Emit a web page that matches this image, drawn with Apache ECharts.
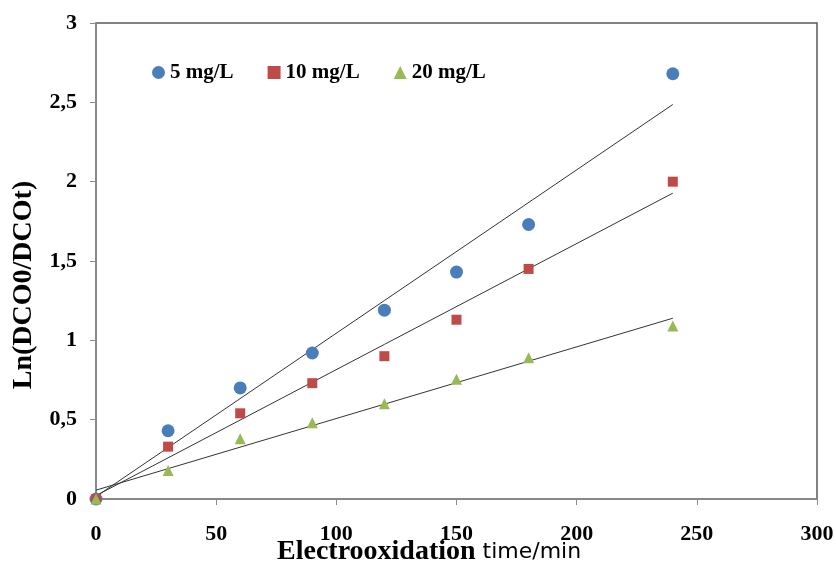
<!DOCTYPE html>
<html><head><meta charset="utf-8">
<script src="https://cdn.jsdelivr.net/npm/echarts@6/dist/echarts.min.js"></script>
<style>html,body{margin:0;padding:0;background:#fff}#c{width:836px;height:568px}</style>
</head><body><div id="c"></div>
<script>
const times = [0, 30, 60, 90, 120, 150, 180, 240];
const s5 = [0, 0.43, 0.70, 0.92, 1.19, 1.43, 1.73, 2.68];
const s10 = [0, 0.33, 0.54, 0.73, 0.90, 1.13, 1.45, 2.00];
const s20 = [0, 0.18, 0.38, 0.48, 0.60, 0.755, 0.89, 1.09];
const seriesNames = ['5 mg/L', '10 mg/L', '20 mg/L'];

function fit(xs, ys) {
  const n = xs.length;
  const mx = xs.reduce((a, b) => a + b, 0) / n;
  const my = ys.reduce((a, b) => a + b, 0) / n;
  let sxx = 0, sxy = 0;
  for (let i = 0; i < n; i++) { sxx += (xs[i] - mx) ** 2; sxy += (xs[i] - mx) * (ys[i] - my); }
  const m = sxy / sxx, b = my - m * mx;
  const x0 = Math.min(...xs), x1 = Math.max(...xs);
  return [[x0, m * x0 + b], [x1, m * x1 + b]];
}
const pairs = ys => times.map((t, i) => [t, ys[i]]);
const font = '"Liberation Serif", "Times New Roman", serif';
const sans = '"DejaVu Sans", Verdana, sans-serif';
const colors = ['#4A7EBB', '#BE4B48', '#98B954'];
const symbols = ['circle', 'rect', 'triangle'];
const sizes = [13, 10, 11];
const all = [s5, s10, s20];

const series = [];
all.forEach((ys, i) => {
  series.push({
    name: seriesNames[i] + ' fit', type: 'line', data: fit(times, ys), showSymbol: false,
    lineStyle: { color: '#333', width: 1 }, z: 2, silent: true
  });
});
all.forEach((ys, i) => {
  series.push({
    name: seriesNames[i], type: 'scatter', data: pairs(ys), symbol: symbols[i],
    symbolSize: sizes[i], itemStyle: { color: colors[i], opacity: 1 }, z: 3 + i
  });
});

const chart = echarts.init(document.getElementById('c'));
chart.setOption({
  animation: false,
  title: {
    text: '{a|Electrooxidation}{b| time/min}', left: 272, top: 533,
    textStyle: {
      rich: {
        a: { fontFamily: font, fontWeight: 'bold', fontSize: 28, color: '#000' },
        b: { fontFamily: sans, fontWeight: 'normal', fontSize: 22, color: '#000' }
      }
    }
  },
  grid: { left: 96, top: 23, right: 19, bottom: 69, show: true, borderColor: '#595959', borderWidth: 1.5,
    containLabel: false, outerBoundsMode: 'none' },
  legend: {
    data: seriesNames.map((n, i) => ({ name: n, icon: symbols[i] })),
    left: 147, top: 57, itemGap: 34, itemWidth: 13, itemHeight: 13,
    textStyle: { fontFamily: font, fontWeight: 'bold', fontSize: 21, color: '#000' }
  },
  xAxis: {
    type: 'value', min: 0, max: 300, interval: 50,
    axisLine: { lineStyle: { color: '#8c8c8c', width: 1.5 } },
    axisTick: { show: true, length: 6, inside: false, lineStyle: { color: '#8c8c8c' } },
    axisLabel: { fontFamily: font, fontWeight: 'bold', fontSize: 22, color: '#000', margin: 24 },
    splitLine: { show: false }
  },
  yAxis: {
    type: 'value', min: 0, max: 3, interval: 0.5,
    name: 'Ln(DCO0/DCOt)', nameLocation: 'middle', nameGap: 58, nameRotate: 90,
    nameTextStyle: { fontFamily: font, fontWeight: 'bold', fontSize: 28, color: '#000', padding: [0, 48, 0, 0] },
    axisLine: { show: true, lineStyle: { color: '#8c8c8c', width: 1.5 } },
    axisTick: { show: true, length: 6, inside: false, lineStyle: { color: '#8c8c8c' } },
    axisLabel: { fontFamily: font, fontWeight: 'bold', fontSize: 22, color: '#000', margin: 19,
      formatter: v => String(v).replace('.', ',') },
    splitLine: { show: false }
  },
  series: series
});
</script></body></html>
